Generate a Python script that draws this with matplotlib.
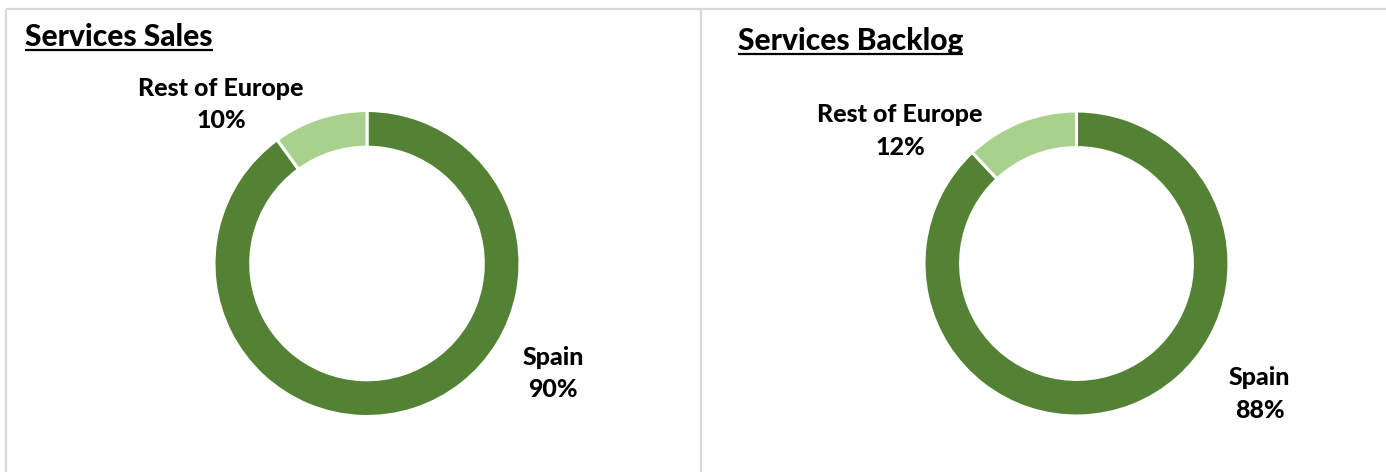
import matplotlib
matplotlib.use("Agg")
import matplotlib.pyplot as plt
from matplotlib.lines import Line2D

W, H, DPI = 1386, 472, 100

titles = ["Services Sales", "Services Backlog"]
categories = ["Spain", "Rest of Europe"]
sales_pct = [90, 10]
backlog_pct = [88, 12]
colors = ["#548235", "#a9d18e"]

FONT = "Lato"

fig = plt.figure(figsize=(W / DPI, H / DPI), dpi=DPI)
fig.patch.set_facecolor("white")

def px_line(x0, y0, x1, y1, **kw):
    fig.add_artist(Line2D([x0 / W, x1 / W], [1 - y0 / H, 1 - y1 / H],
                          transform=fig.transFigure, **kw))

# panel borders
border = dict(color="#d9d9d9", lw=1.6, solid_capstyle="butt")
px_line(6, 9, W, 9, **border)
px_line(6, 9, 6, H, **border)
px_line(701, 9, 701, H, **border)

panels = [
    dict(title=titles[0], vals=sales_pct, title_xy=(25, 46), cx=367, cy=263.5, R=153,
         label_pos={"Spain": (1.216, -0.72), "Rest of Europe": (-0.954, 1.04)}),
    dict(title=titles[1], vals=backlog_pct, title_xy=(738, 50), cx=1076.5, cy=263.5, R=152.5,
         label_pos={"Spain": (1.20, -0.855), "Rest of Europe": (-1.157, 0.87)}),
]

renderer = fig.canvas.get_renderer()

for p in panels:
    cx, cy, R = p["cx"], p["cy"], p["R"]
    ax = fig.add_axes([(cx - R) / W, 1 - (cy + R) / H, 2 * R / W, 2 * R / H])
    wedges, _ = ax.pie(p["vals"], colors=colors, startangle=90, counterclock=False,
                       radius=1.0, wedgeprops=dict(width=0.24, edgecolor="white", linewidth=2.2))
    ax.set_xlim(-1, 1)
    ax.set_ylim(-1, 1)
    ax.set_aspect("equal")
    ax.axis("off")
    for cat, v in zip(categories, p["vals"]):
        lx, ly = p["label_pos"][cat]
        ax.text(lx, ly, f"{cat}\n{v}%", ha="center", va="center", fontsize=18,
                fontweight="black", family=FONT, linespacing=1.5, clip_on=False)
    # title with underline
    tx, ty = p["title_xy"]
    t = fig.text(tx / W, 1 - ty / H, p["title"], ha="left", va="baseline",
                 fontsize=21.5, fontweight="black", family=FONT)
    bb = t.get_window_extent(renderer=renderer)
    uy = ty + 4
    px_line(bb.x0, uy, bb.x1, uy, color="black", lw=1.6, solid_capstyle="butt")

fig.savefig("out.png", dpi=DPI, facecolor="white")
